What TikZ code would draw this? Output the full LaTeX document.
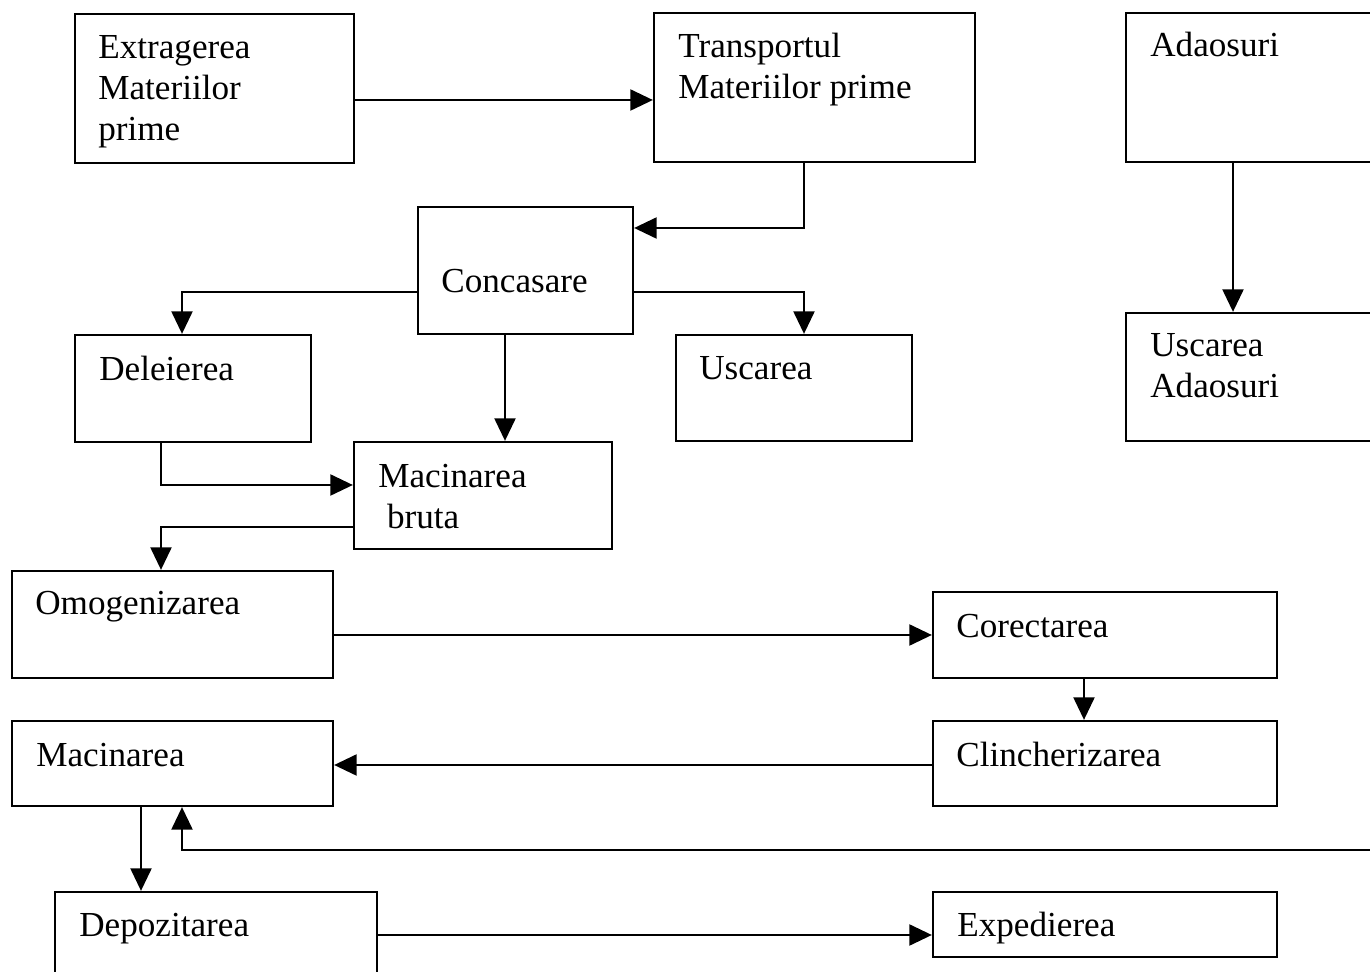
\documentclass[tikz,border=0pt]{standalone}
\usepackage{fontspec}
\setmainfont{Liberation Serif}
\usetikzlibrary{arrows.meta,fit}

\begin{document}
\begin{tikzpicture}[x=0.02cm,y=-0.02cm,
 box/.style={draw,line width=1.3pt,inner sep=0pt},
 txt/.style={inner sep=0pt,align=left,anchor=base west,font=\fontsize{20}{23.5}\selectfont},
 arrow/.style={-{Triangle[length=0.45cm,width=0.42cm]},line width=1.2pt}]
\useasboundingbox (0,0) rectangle (1370,972);
\clip (0,0) rectangle (1370,972);
% boxes
\node[box,fit={(75,14) (354,163)}] (extr) {};
\node[box,fit={(654,13) (975,162)}] (transp) {};
\node[box,fit={(1126,13) (1400,162)}] (adaos) {};
\node[box,fit={(418,207) (633,334)}] (conc) {};
\node[box,fit={(75,335) (311,442)}] (delei) {};
\node[box,fit={(676,335) (912,441)}] (usc) {};
\node[box,fit={(1126,313) (1400,441)}] (uscad) {};
\node[box,fit={(354,442) (612,549)}] (macb) {};
\node[box,fit={(12,571) (333,678)}] (omog) {};
\node[box,fit={(933,592) (1277,678)}] (corect) {};
\node[box,fit={(12,721) (333,806)}] (macin) {};
\node[box,fit={(933,721) (1277,806)}] (clinch) {};
\node[box,fit={(55,892) (377,1000)}] (depoz) {};
\node[box,fit={(933,892) (1277,957)}] (exped) {};
% labels (base = last line)
\node[txt] (extr-t) at (98,141) {Extragerea\\Materiilor\\prime};
\node[txt] (transp-t) at (678,99) {Transportul\\Materiilor prime};
\node[txt] (adaos-t) at (1150,57) {Adaosuri};
\node[txt] (conc-t) at (441,293) {Concasare};
\node[txt] (delei-t) at (99,381) {Deleierea};
\node[txt] (usc-t) at (699,380) {Uscarea};
\node[txt] (uscad-t) at (1150,398) {Uscarea\\Adaosuri};
\node[txt] (macb-t) at (378,529) {Macinarea\\\ bruta};
\node[txt] (omog-t) at (35,615) {Omogenizarea};
\node[txt] (corect-t) at (956,638) {Corectarea};
\node[txt] (macin-t) at (36,767) {Macinarea};
\node[txt] (clinch-t) at (956,767) {Clincherizarea};
\node[txt] (depoz-t) at (79,937) {Depozitarea};
\node[txt] (exped-t) at (957,937) {Expedierea};
\coordinate (ret) at (1380,850);
% connectors
\draw[arrow] (extr.east |- 0,100) -- (transp.west |- 0,100);
\draw[arrow] (transp.south -| 804,0) |- (conc.east |- 0,228);
\draw[arrow] (conc.west |- 0,292) -| (delei.north -| 182,0);
\draw[arrow] (conc.east |- 0,292) -| (usc.north -| 804,0);
\draw[arrow] (conc.south -| 505,0) -- (macb.north -| 505,0);
\draw[arrow] (delei.south -| 161,0) |- (macb.west |- 0,485);
\draw[arrow] (macb.west |- 0,527) -| (omog.north -| 161,0);
\draw[arrow] (omog.east |- 0,635) -- (corect.west |- 0,635);
\draw[arrow] (corect.south -| 1084,0) -- (clinch.north -| 1084,0);
\draw[arrow] (clinch.west |- 0,765) -- (macin.east |- 0,765);
\draw[arrow] (ret) -| (macin.south -| 182,0);
\draw[arrow] (macin.south -| 141,0) -- (depoz.north -| 141,0);
\draw[arrow] (depoz.east |- 0,935) -- (exped.west |- 0,935);
\draw[arrow] (adaos.south -| 1233,0) -- (uscad.north -| 1233,0);
\end{tikzpicture}
\end{document}
